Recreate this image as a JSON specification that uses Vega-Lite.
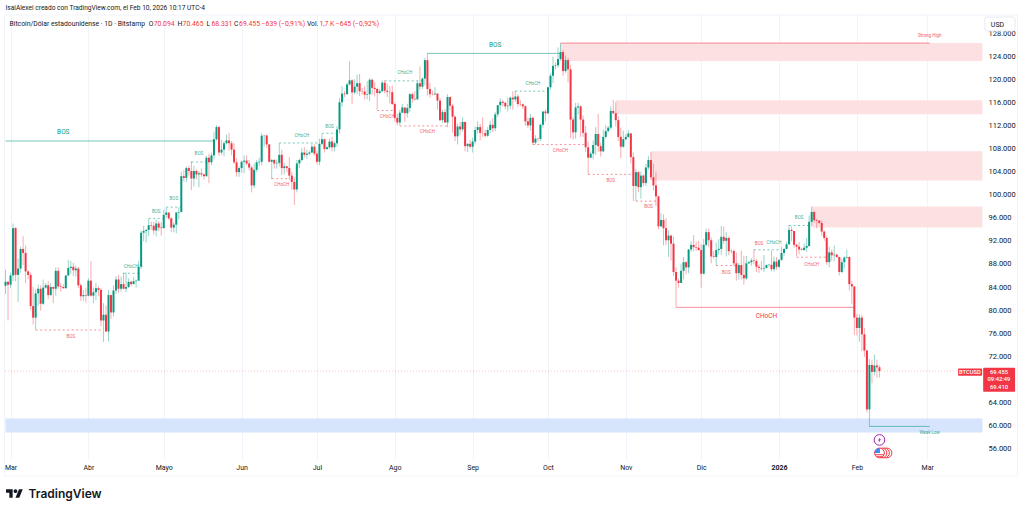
{
  "$schema": "https://vega.github.io/schema/vega-lite/v6.json",
  "width": 979,
  "height": 444,
  "autosize": "none",
  "padding": {"left": 5, "top": 15, "right": 39, "bottom": 50},
  "background": "white",
  "config": {"font": "Roboto", "view": {"stroke": null}},
  "encoding": {
    "x": {
      "type": "temporal",
      "title": null,
      "scale": {"type": "utc", "domain": ["2025-02-26T19:00:00Z", "2026-03-23T15:00:00Z"], "nice": false, "padding": 0},
      "axis": {
        "orient": "bottom",
        "values": ["2025-03-01","2025-04-01","2025-05-01","2025-06-01","2025-07-01","2025-08-01","2025-09-01","2025-10-01","2025-11-01","2025-12-01","2026-01-01","2026-02-01","2026-03-01"],
        "labelExpr": "utcmonth(datum.value) == 0 ? '2026' : ['Ene','Feb','Mar','Abr','Mayo','Jun','Jul','Ago','Sep','Oct','Nov','Dic'][utcmonth(datum.value)]",
        "labelFontWeight": {"expr": "utcmonth(datum.value) == 0 ? 'bold' : 'normal'"},
        "labelFontSize": 7,
        "labelColor": "#131722",
        "labelPadding": 4,
        "labelOverlap": false,
        "labelBound": false,
        "labelFlush": false,
        "ticks": false,
        "domain": false,
        "grid": true,
        "gridColor": "#f0f3fa",
        "gridWidth": 1
      }
    },
    "y": {
      "type": "quantitative",
      "title": null,
      "scale": {"domain": [54208, 131118], "nice": false, "zero": false},
      "axis": {
        "orient": "right",
        "values": [56000,60000,64000,68000,72000,76000,80000,84000,88000,92000,96000,100000,104000,108000,112000,116000,120000,124000,128000],
        "labelExpr": "replace(format(datum.value, ','), ',', '.')",
        "labelFontSize": 7.5,
        "labelColor": "#131722",
        "labelPadding": 4,
        "labelOverlap": false,
        "labelBound": false,
        "ticks": false,
        "domain": false,
        "grid": false
      }
    }
  },
  "datasets": {
    "candles": [
      {"d":"2025-02-27","o":84200,"h":87000,"l":82800,"c":84900},
      {"d":"2025-02-28","o":84900,"h":85100,"l":78200,"c":84400},
      {"d":"2025-03-01","o":84400,"h":86500,"l":83800,"c":86000},
      {"d":"2025-03-02","o":86000,"h":95000,"l":85000,"c":94200},
      {"d":"2025-03-03","o":94200,"h":94400,"l":85000,"c":86100},
      {"d":"2025-03-04","o":86100,"h":88900,"l":81400,"c":87200},
      {"d":"2025-03-05","o":87200,"h":91000,"l":86500,"c":90600},
      {"d":"2025-03-06","o":90600,"h":92800,"l":87800,"c":89900},
      {"d":"2025-03-07","o":89900,"h":91200,"l":84700,"c":86700},
      {"d":"2025-03-08","o":86700,"h":86900,"l":85300,"c":86100},
      {"d":"2025-03-09","o":86100,"h":86500,"l":80000,"c":80700},
      {"d":"2025-03-10","o":80700,"h":84000,"l":77500,"c":78700},
      {"d":"2025-03-11","o":78700,"h":83600,"l":76600,"c":82900},
      {"d":"2025-03-12","o":82900,"h":84400,"l":80800,"c":83700},
      {"d":"2025-03-13","o":83700,"h":84300,"l":79900,"c":81100},
      {"d":"2025-03-14","o":81100,"h":85300,"l":80900,"c":83900},
      {"d":"2025-03-15","o":83900,"h":84700,"l":83700,"c":84300},
      {"d":"2025-03-16","o":84300,"h":85000,"l":81900,"c":82600},
      {"d":"2025-03-17","o":82600,"h":84700,"l":82500,"c":84000},
      {"d":"2025-03-18","o":84000,"h":84100,"l":81200,"c":83700},
      {"d":"2025-03-19","o":83700,"h":87400,"l":82500,"c":86800},
      {"d":"2025-03-20","o":86800,"h":87400,"l":83700,"c":84100},
      {"d":"2025-03-21","o":84100,"h":84700,"l":83200,"c":84000},
      {"d":"2025-03-22","o":84000,"h":84500,"l":83700,"c":83800},
      {"d":"2025-03-23","o":83800,"h":86000,"l":83700,"c":86000},
      {"d":"2025-03-24","o":86000,"h":88700,"l":85900,"c":87300},
      {"d":"2025-03-25","o":87300,"h":88500,"l":86300,"c":87500},
      {"d":"2025-03-26","o":87500,"h":88200,"l":85900,"c":86900},
      {"d":"2025-03-27","o":86900,"h":87700,"l":85800,"c":87200},
      {"d":"2025-03-28","o":87200,"h":87500,"l":83800,"c":84300},
      {"d":"2025-03-29","o":84300,"h":84600,"l":81600,"c":82400},
      {"d":"2025-03-30","o":82400,"h":83500,"l":81600,"c":82600},
      {"d":"2025-03-31","o":82600,"h":83900,"l":81300,"c":82500},
      {"d":"2025-04-01","o":82500,"h":85500,"l":82400,"c":85100},
      {"d":"2025-04-02","o":85100,"h":88500,"l":82300,"c":82500},
      {"d":"2025-04-03","o":82500,"h":83900,"l":81200,"c":83100},
      {"d":"2025-04-04","o":83100,"h":84700,"l":81700,"c":83800},
      {"d":"2025-04-05","o":83800,"h":84200,"l":82400,"c":83500},
      {"d":"2025-04-06","o":83500,"h":83800,"l":77200,"c":78200},
      {"d":"2025-04-07","o":78200,"h":81200,"l":74500,"c":79200},
      {"d":"2025-04-08","o":79200,"h":80800,"l":76200,"c":76300},
      {"d":"2025-04-09","o":76300,"h":83500,"l":74600,"c":82600},
      {"d":"2025-04-10","o":82600,"h":82700,"l":78500,"c":79600},
      {"d":"2025-04-11","o":79600,"h":84300,"l":78900,"c":83400},
      {"d":"2025-04-12","o":83400,"h":85900,"l":82800,"c":85300},
      {"d":"2025-04-13","o":85300,"h":86100,"l":83000,"c":83700},
      {"d":"2025-04-14","o":83700,"h":85800,"l":83200,"c":84500},
      {"d":"2025-04-15","o":84500,"h":86500,"l":83600,"c":83700},
      {"d":"2025-04-16","o":83700,"h":86500,"l":83100,"c":84000},
      {"d":"2025-04-17","o":84000,"h":85500,"l":83800,"c":84900},
      {"d":"2025-04-18","o":84900,"h":85100,"l":84100,"c":84500},
      {"d":"2025-04-19","o":84500,"h":85700,"l":84500,"c":85000},
      {"d":"2025-04-20","o":85000,"h":85300,"l":83900,"c":85100},
      {"d":"2025-04-21","o":85100,"h":88500,"l":85100,"c":87500},
      {"d":"2025-04-22","o":87500,"h":93800,"l":87100,"c":93400},
      {"d":"2025-04-23","o":93400,"h":94600,"l":91900,"c":93700},
      {"d":"2025-04-24","o":93700,"h":94000,"l":91700,"c":93900},
      {"d":"2025-04-25","o":93900,"h":95800,"l":92800,"c":94700},
      {"d":"2025-04-26","o":94700,"h":95300,"l":93900,"c":94600},
      {"d":"2025-04-27","o":94600,"h":95300,"l":93100,"c":93800},
      {"d":"2025-04-28","o":93800,"h":95600,"l":92800,"c":95000},
      {"d":"2025-04-29","o":95000,"h":95400,"l":93700,"c":94300},
      {"d":"2025-04-30","o":94300,"h":95200,"l":92900,"c":94200},
      {"d":"2025-05-01","o":94200,"h":97400,"l":94100,"c":96500},
      {"d":"2025-05-02","o":96500,"h":97800,"l":96000,"c":96900},
      {"d":"2025-05-03","o":96900,"h":96900,"l":95600,"c":95900},
      {"d":"2025-05-04","o":95900,"h":96100,"l":93500,"c":94300},
      {"d":"2025-05-05","o":94300,"h":95200,"l":93500,"c":94800},
      {"d":"2025-05-06","o":94800,"h":97000,"l":93300,"c":96900},
      {"d":"2025-05-07","o":96900,"h":97800,"l":95700,"c":97000},
      {"d":"2025-05-08","o":97000,"h":104000,"l":96900,"c":103200},
      {"d":"2025-05-09","o":103200,"h":104300,"l":102300,"c":102900},
      {"d":"2025-05-10","o":102900,"h":104900,"l":102200,"c":104600},
      {"d":"2025-05-11","o":104600,"h":105000,"l":103300,"c":104100},
      {"d":"2025-05-12","o":104100,"h":105800,"l":100800,"c":102800},
      {"d":"2025-05-13","o":102800,"h":105000,"l":101400,"c":104100},
      {"d":"2025-05-14","o":104100,"h":104400,"l":102600,"c":103500},
      {"d":"2025-05-15","o":103500,"h":104100,"l":101300,"c":103700},
      {"d":"2025-05-16","o":103700,"h":104500,"l":103100,"c":103500},
      {"d":"2025-05-17","o":103500,"h":103700,"l":102600,"c":103200},
      {"d":"2025-05-18","o":103200,"h":106700,"l":103100,"c":106400},
      {"d":"2025-05-19","o":106400,"h":107100,"l":102000,"c":105600},
      {"d":"2025-05-20","o":105600,"h":107300,"l":105100,"c":106800},
      {"d":"2025-05-21","o":106800,"h":110800,"l":106100,"c":109600},
      {"d":"2025-05-22","o":109600,"h":112000,"l":109300,"c":111700},
      {"d":"2025-05-23","o":111700,"h":111900,"l":106700,"c":107300},
      {"d":"2025-05-24","o":107300,"h":109500,"l":106900,"c":107800},
      {"d":"2025-05-25","o":107800,"h":109300,"l":106600,"c":108900},
      {"d":"2025-05-26","o":108900,"h":110400,"l":108700,"c":109400},
      {"d":"2025-05-27","o":109400,"h":110700,"l":107600,"c":108900},
      {"d":"2025-05-28","o":108900,"h":109300,"l":106800,"c":107800},
      {"d":"2025-05-29","o":107800,"h":108900,"l":105300,"c":105600},
      {"d":"2025-05-30","o":105600,"h":106300,"l":103100,"c":103900},
      {"d":"2025-05-31","o":103900,"h":104900,"l":103100,"c":104600},
      {"d":"2025-06-01","o":104600,"h":105900,"l":103800,"c":105700},
      {"d":"2025-06-02","o":105700,"h":106800,"l":103700,"c":105900},
      {"d":"2025-06-03","o":105900,"h":106800,"l":105100,"c":105400},
      {"d":"2025-06-04","o":105400,"h":106000,"l":104200,"c":104700},
      {"d":"2025-06-05","o":104700,"h":105000,"l":100400,"c":101600},
      {"d":"2025-06-06","o":101600,"h":105400,"l":101100,"c":104300},
      {"d":"2025-06-07","o":104300,"h":106000,"l":103900,"c":105600},
      {"d":"2025-06-08","o":105600,"h":106400,"l":104900,"c":105700},
      {"d":"2025-06-09","o":105700,"h":110600,"l":105100,"c":110200},
      {"d":"2025-06-10","o":110200,"h":110300,"l":108300,"c":110250},
      {"d":"2025-06-11","o":110250,"h":110400,"l":108100,"c":108700},
      {"d":"2025-06-12","o":108700,"h":108800,"l":105600,"c":105700},
      {"d":"2025-06-13","o":105700,"h":106200,"l":102700,"c":106000},
      {"d":"2025-06-14","o":106000,"h":106200,"l":104500,"c":105400},
      {"d":"2025-06-15","o":105400,"h":106100,"l":104500,"c":105500},
      {"d":"2025-06-16","o":105500,"h":108900,"l":104900,"c":106900},
      {"d":"2025-06-17","o":106900,"h":107800,"l":103400,"c":104600},
      {"d":"2025-06-18","o":104600,"h":105500,"l":103500,"c":104900},
      {"d":"2025-06-19","o":104900,"h":105000,"l":103900,"c":104600},
      {"d":"2025-06-20","o":104600,"h":106500,"l":102500,"c":103300},
      {"d":"2025-06-21","o":103300,"h":104000,"l":100800,"c":102200},
      {"d":"2025-06-22","o":102200,"h":103000,"l":98200,"c":100900},
      {"d":"2025-06-23","o":100900,"h":106000,"l":100400,"c":105400},
      {"d":"2025-06-24","o":105400,"h":106300,"l":104600,"c":106000},
      {"d":"2025-06-25","o":106000,"h":108100,"l":105700,"c":107300},
      {"d":"2025-06-26","o":107300,"h":108200,"l":106400,"c":106900},
      {"d":"2025-06-27","o":106900,"h":107800,"l":106200,"c":107100},
      {"d":"2025-06-28","o":107100,"h":107600,"l":106800,"c":107300},
      {"d":"2025-06-29","o":107300,"h":108800,"l":107200,"c":108300},
      {"d":"2025-06-30","o":108300,"h":108700,"l":106700,"c":107100},
      {"d":"2025-07-01","o":107100,"h":107500,"l":105300,"c":105700},
      {"d":"2025-07-02","o":105700,"h":109700,"l":105100,"c":108800},
      {"d":"2025-07-03","o":108800,"h":110500,"l":108500,"c":109600},
      {"d":"2025-07-04","o":109600,"h":109700,"l":107300,"c":107900},
      {"d":"2025-07-05","o":107900,"h":108400,"l":107800,"c":108200},
      {"d":"2025-07-06","o":108200,"h":109700,"l":107900,"c":109200},
      {"d":"2025-07-07","o":109200,"h":110000,"l":107500,"c":108200},
      {"d":"2025-07-08","o":108200,"h":109200,"l":107500,"c":108900},
      {"d":"2025-07-09","o":108900,"h":111900,"l":108300,"c":111300},
      {"d":"2025-07-10","o":111300,"h":116700,"l":110600,"c":116000},
      {"d":"2025-07-11","o":116000,"h":118800,"l":115200,"c":117500},
      {"d":"2025-07-12","o":117500,"h":118000,"l":116900,"c":117400},
      {"d":"2025-07-13","o":117400,"h":119400,"l":117300,"c":119100},
      {"d":"2025-07-14","o":119100,"h":123100,"l":118900,"c":119800},
      {"d":"2025-07-15","o":119800,"h":120000,"l":115700,"c":117700},
      {"d":"2025-07-16","o":117700,"h":120000,"l":117400,"c":118700},
      {"d":"2025-07-17","o":118700,"h":120800,"l":117400,"c":119300},
      {"d":"2025-07-18","o":119300,"h":120900,"l":117100,"c":117900},
      {"d":"2025-07-19","o":117900,"h":118500,"l":117300,"c":117850},
      {"d":"2025-07-20","o":117850,"h":118800,"l":116500,"c":117300},
      {"d":"2025-07-21","o":117300,"h":119700,"l":116500,"c":117400},
      {"d":"2025-07-22","o":117400,"h":120200,"l":116200,"c":119900},
      {"d":"2025-07-23","o":119900,"h":120100,"l":117300,"c":118500},
      {"d":"2025-07-24","o":118500,"h":119500,"l":117000,"c":118300},
      {"d":"2025-07-25","o":118300,"h":118500,"l":114700,"c":117600},
      {"d":"2025-07-26","o":117600,"h":118300,"l":117400,"c":117900},
      {"d":"2025-07-27","o":117900,"h":119800,"l":117800,"c":119400},
      {"d":"2025-07-28","o":119400,"h":119800,"l":117500,"c":118000},
      {"d":"2025-07-29","o":118000,"h":119200,"l":116900,"c":117800},
      {"d":"2025-07-30","o":117800,"h":118800,"l":115800,"c":117750},
      {"d":"2025-07-31","o":117750,"h":118900,"l":115500,"c":115700},
      {"d":"2025-08-01","o":115700,"h":116000,"l":112700,"c":113300},
      {"d":"2025-08-02","o":113300,"h":114000,"l":112000,"c":112500},
      {"d":"2025-08-03","o":112500,"h":114700,"l":112000,"c":114200},
      {"d":"2025-08-04","o":114200,"h":115700,"l":114100,"c":115100},
      {"d":"2025-08-05","o":115100,"h":115100,"l":112600,"c":114100},
      {"d":"2025-08-06","o":114100,"h":115700,"l":113400,"c":115000},
      {"d":"2025-08-07","o":115000,"h":117600,"l":114300,"c":117400},
      {"d":"2025-08-08","o":117400,"h":117700,"l":115900,"c":116600},
      {"d":"2025-08-09","o":116600,"h":117900,"l":116300,"c":116500},
      {"d":"2025-08-10","o":116500,"h":119700,"l":116500,"c":119300},
      {"d":"2025-08-11","o":119300,"h":122200,"l":118100,"c":118700},
      {"d":"2025-08-12","o":118700,"h":120300,"l":118300,"c":120100},
      {"d":"2025-08-13","o":120100,"h":123700,"l":118900,"c":123300},
      {"d":"2025-08-14","o":123300,"h":124500,"l":117200,"c":118300},
      {"d":"2025-08-15","o":118300,"h":119300,"l":116800,"c":117400},
      {"d":"2025-08-16","o":117400,"h":118000,"l":117200,"c":117350},
      {"d":"2025-08-17","o":117350,"h":118600,"l":117300,"c":117500},
      {"d":"2025-08-18","o":117500,"h":117600,"l":114700,"c":116300},
      {"d":"2025-08-19","o":116300,"h":116800,"l":112700,"c":112900},
      {"d":"2025-08-20","o":112900,"h":114700,"l":112400,"c":114300},
      {"d":"2025-08-21","o":114300,"h":114800,"l":112400,"c":112500},
      {"d":"2025-08-22","o":112500,"h":117400,"l":111700,"c":116900},
      {"d":"2025-08-23","o":116900,"h":117000,"l":114600,"c":115400},
      {"d":"2025-08-24","o":115400,"h":115700,"l":110700,"c":113500},
      {"d":"2025-08-25","o":113500,"h":113700,"l":109300,"c":110100},
      {"d":"2025-08-26","o":110100,"h":112300,"l":108700,"c":111800},
      {"d":"2025-08-27","o":111800,"h":112600,"l":110300,"c":111300},
      {"d":"2025-08-28","o":111300,"h":113400,"l":110900,"c":112600},
      {"d":"2025-08-29","o":112600,"h":112600,"l":107500,"c":108400},
      {"d":"2025-08-30","o":108400,"h":108900,"l":107400,"c":108800},
      {"d":"2025-08-31","o":108800,"h":109500,"l":108000,"c":108300},
      {"d":"2025-09-01","o":108300,"h":109900,"l":107300,"c":109200},
      {"d":"2025-09-02","o":109200,"h":111800,"l":108700,"c":111200},
      {"d":"2025-09-03","o":111200,"h":112700,"l":110600,"c":111700},
      {"d":"2025-09-04","o":111700,"h":112300,"l":109400,"c":110700},
      {"d":"2025-09-05","o":110700,"h":113400,"l":110000,"c":110650},
      {"d":"2025-09-06","o":110650,"h":111300,"l":109900,"c":110200},
      {"d":"2025-09-07","o":110200,"h":111700,"l":110000,"c":111200},
      {"d":"2025-09-08","o":111200,"h":112800,"l":110700,"c":112100},
      {"d":"2025-09-09","o":112100,"h":113200,"l":110800,"c":111500},
      {"d":"2025-09-10","o":111500,"h":114300,"l":111000,"c":113900},
      {"d":"2025-09-11","o":113900,"h":115500,"l":113400,"c":115500},
      {"d":"2025-09-12","o":115500,"h":116700,"l":114200,"c":116100},
      {"d":"2025-09-13","o":116100,"h":116400,"l":115300,"c":115900},
      {"d":"2025-09-14","o":115900,"h":116100,"l":114800,"c":115300},
      {"d":"2025-09-15","o":115300,"h":116800,"l":114400,"c":115400},
      {"d":"2025-09-16","o":115400,"h":117000,"l":114800,"c":116800},
      {"d":"2025-09-17","o":116800,"h":117900,"l":114700,"c":116500},
      {"d":"2025-09-18","o":116500,"h":118000,"l":116100,"c":117000},
      {"d":"2025-09-19","o":117000,"h":117400,"l":115200,"c":115700},
      {"d":"2025-09-20","o":115700,"h":116300,"l":115300,"c":115650},
      {"d":"2025-09-21","o":115650,"h":115800,"l":114800,"c":115300},
      {"d":"2025-09-22","o":115300,"h":115500,"l":111900,"c":112700},
      {"d":"2025-09-23","o":112700,"h":113300,"l":111500,"c":112000},
      {"d":"2025-09-24","o":112000,"h":114000,"l":111100,"c":113300},
      {"d":"2025-09-25","o":113300,"h":113500,"l":108600,"c":109000},
      {"d":"2025-09-26","o":109000,"h":110300,"l":108700,"c":109700},
      {"d":"2025-09-27","o":109700,"h":109800,"l":109200,"c":109650},
      {"d":"2025-09-28","o":109650,"h":112300,"l":109300,"c":112100},
      {"d":"2025-09-29","o":112100,"h":114400,"l":111600,"c":114400},
      {"d":"2025-09-30","o":114400,"h":114800,"l":112700,"c":114100},
      {"d":"2025-10-01","o":114100,"h":118700,"l":113900,"c":118600},
      {"d":"2025-10-02","o":118600,"h":121000,"l":118200,"c":120600},
      {"d":"2025-10-03","o":120600,"h":123900,"l":119300,"c":122300},
      {"d":"2025-10-04","o":122300,"h":122900,"l":121700,"c":122400},
      {"d":"2025-10-05","o":122400,"h":125500,"l":122000,"c":123500},
      {"d":"2025-10-06","o":123500,"h":126200,"l":123200,"c":124700},
      {"d":"2025-10-07","o":124700,"h":125100,"l":120600,"c":121400},
      {"d":"2025-10-08","o":121400,"h":124100,"l":121100,"c":123300},
      {"d":"2025-10-09","o":123300,"h":123700,"l":119400,"c":121700},
      {"d":"2025-10-10","o":121700,"h":122500,"l":109800,"c":113000},
      {"d":"2025-10-11","o":113000,"h":113400,"l":109500,"c":110800},
      {"d":"2025-10-12","o":110800,"h":115900,"l":109700,"c":115100},
      {"d":"2025-10-13","o":115100,"h":115900,"l":113900,"c":115300},
      {"d":"2025-10-14","o":115300,"h":115500,"l":110000,"c":113000},
      {"d":"2025-10-15","o":113000,"h":113700,"l":110000,"c":110700},
      {"d":"2025-10-16","o":110700,"h":111900,"l":107400,"c":108200},
      {"d":"2025-10-17","o":108200,"h":109200,"l":103500,"c":106400},
      {"d":"2025-10-18","o":106400,"h":107500,"l":106300,"c":107100},
      {"d":"2025-10-19","o":107100,"h":109400,"l":106100,"c":108600},
      {"d":"2025-10-20","o":108600,"h":111700,"l":106900,"c":110500},
      {"d":"2025-10-21","o":110500,"h":114000,"l":107400,"c":108400},
      {"d":"2025-10-22","o":108400,"h":109000,"l":106600,"c":107500},
      {"d":"2025-10-23","o":107500,"h":111300,"l":107400,"c":110000},
      {"d":"2025-10-24","o":110000,"h":112000,"l":109700,"c":111000},
      {"d":"2025-10-25","o":111000,"h":111900,"l":110900,"c":111600},
      {"d":"2025-10-26","o":111600,"h":115300,"l":111300,"c":114500},
      {"d":"2025-10-27","o":114500,"h":116400,"l":113900,"c":114100},
      {"d":"2025-10-28","o":114100,"h":116000,"l":111800,"c":112900},
      {"d":"2025-10-29","o":112900,"h":113600,"l":109300,"c":110000},
      {"d":"2025-10-30","o":110000,"h":111600,"l":106300,"c":108300},
      {"d":"2025-10-31","o":108300,"h":111100,"l":108100,"c":109600},
      {"d":"2025-11-01","o":109600,"h":110500,"l":109400,"c":110000},
      {"d":"2025-11-02","o":110000,"h":111200,"l":109800,"c":110600},
      {"d":"2025-11-03","o":110600,"h":110700,"l":105400,"c":106500},
      {"d":"2025-11-04","o":106500,"h":107300,"l":98900,"c":101500},
      {"d":"2025-11-05","o":101500,"h":104500,"l":98900,"c":103900},
      {"d":"2025-11-06","o":103900,"h":104100,"l":100400,"c":101300},
      {"d":"2025-11-07","o":101300,"h":104000,"l":99300,"c":103300},
      {"d":"2025-11-08","o":103300,"h":103500,"l":101500,"c":102000},
      {"d":"2025-11-09","o":102000,"h":105300,"l":101500,"c":104700},
      {"d":"2025-11-10","o":104700,"h":106700,"l":104300,"c":106000},
      {"d":"2025-11-11","o":106000,"h":107400,"l":102500,"c":103000},
      {"d":"2025-11-12","o":103000,"h":105400,"l":100700,"c":101600},
      {"d":"2025-11-13","o":101600,"h":104000,"l":98000,"c":99700},
      {"d":"2025-11-14","o":99700,"h":99800,"l":94000,"c":94500},
      {"d":"2025-11-15","o":94500,"h":96800,"l":94500,"c":95600},
      {"d":"2025-11-16","o":95600,"h":96600,"l":91200,"c":94200},
      {"d":"2025-11-17","o":94200,"h":95900,"l":91200,"c":92100},
      {"d":"2025-11-18","o":92100,"h":93800,"l":89200,"c":92900},
      {"d":"2025-11-19","o":92900,"h":93100,"l":88600,"c":91500},
      {"d":"2025-11-20","o":91500,"h":92700,"l":85900,"c":86600},
      {"d":"2025-11-21","o":86600,"h":87400,"l":80500,"c":85100},
      {"d":"2025-11-22","o":85100,"h":85500,"l":83900,"c":84700},
      {"d":"2025-11-23","o":84700,"h":88000,"l":84700,"c":86800},
      {"d":"2025-11-24","o":86800,"h":89200,"l":85300,"c":88300},
      {"d":"2025-11-25","o":88300,"h":88500,"l":86200,"c":87400},
      {"d":"2025-11-26","o":87400,"h":90600,"l":86400,"c":90500},
      {"d":"2025-11-27","o":90500,"h":91900,"l":90100,"c":91300},
      {"d":"2025-11-28","o":91300,"h":93000,"l":90200,"c":90900},
      {"d":"2025-11-29","o":90900,"h":91900,"l":90300,"c":90800},
      {"d":"2025-11-30","o":90800,"h":92000,"l":90300,"c":90400},
      {"d":"2025-12-01","o":90400,"h":91400,"l":83900,"c":86300},
      {"d":"2025-12-02","o":86300,"h":92300,"l":86200,"c":91300},
      {"d":"2025-12-03","o":91300,"h":94100,"l":91000,"c":93500},
      {"d":"2025-12-04","o":93500,"h":94100,"l":90900,"c":92100},
      {"d":"2025-12-05","o":92100,"h":92600,"l":88100,"c":89300},
      {"d":"2025-12-06","o":89300,"h":90300,"l":88900,"c":89200},
      {"d":"2025-12-07","o":89200,"h":91700,"l":87700,"c":90400},
      {"d":"2025-12-08","o":90400,"h":92300,"l":89600,"c":90600},
      {"d":"2025-12-09","o":90600,"h":94600,"l":89600,"c":92700},
      {"d":"2025-12-10","o":92700,"h":94500,"l":91500,"c":92000},
      {"d":"2025-12-11","o":92000,"h":93500,"l":89300,"c":92500},
      {"d":"2025-12-12","o":92500,"h":92800,"l":89500,"c":90200},
      {"d":"2025-12-13","o":90200,"h":90600,"l":89800,"c":90250},
      {"d":"2025-12-14","o":90250,"h":90500,"l":87600,"c":88100},
      {"d":"2025-12-15","o":88100,"h":90000,"l":85100,"c":86400},
      {"d":"2025-12-16","o":86400,"h":88200,"l":85300,"c":87800},
      {"d":"2025-12-17","o":87800,"h":90300,"l":85300,"c":86100},
      {"d":"2025-12-18","o":86100,"h":89400,"l":84400,"c":85500},
      {"d":"2025-12-19","o":85500,"h":89400,"l":85200,"c":88100},
      {"d":"2025-12-20","o":88100,"h":88500,"l":88000,"c":88300},
      {"d":"2025-12-21","o":88300,"h":89000,"l":87700,"c":88600},
      {"d":"2025-12-22","o":88600,"h":90500,"l":87900,"c":88500},
      {"d":"2025-12-23","o":88500,"h":88900,"l":86600,"c":87500},
      {"d":"2025-12-24","o":87500,"h":87900,"l":86400,"c":87300},
      {"d":"2025-12-25","o":87300,"h":88500,"l":86900,"c":87200},
      {"d":"2025-12-26","o":87200,"h":89500,"l":86600,"c":87300},
      {"d":"2025-12-27","o":87300,"h":87900,"l":87200,"c":87800},
      {"d":"2025-12-28","o":87800,"h":88000,"l":87500,"c":87850},
      {"d":"2025-12-29","o":87850,"h":90300,"l":86700,"c":87100},
      {"d":"2025-12-30","o":87100,"h":89300,"l":86700,"c":88400},
      {"d":"2025-12-31","o":88400,"h":89200,"l":87000,"c":87500},
      {"d":"2026-01-01","o":87500,"h":88800,"l":87300,"c":88700},
      {"d":"2026-01-02","o":88700,"h":91000,"l":88500,"c":89900},
      {"d":"2026-01-03","o":89900,"h":90700,"l":89300,"c":90600},
      {"d":"2026-01-04","o":90600,"h":91800,"l":90500,"c":91400},
      {"d":"2026-01-05","o":91400,"h":94700,"l":91300,"c":93900},
      {"d":"2026-01-06","o":93900,"h":94500,"l":91900,"c":93700},
      {"d":"2026-01-07","o":93700,"h":93700,"l":90800,"c":91300},
      {"d":"2026-01-08","o":91300,"h":91500,"l":89300,"c":91000},
      {"d":"2026-01-09","o":91000,"h":91800,"l":89700,"c":90500},
      {"d":"2026-01-10","o":90500,"h":90800,"l":90300,"c":90400},
      {"d":"2026-01-11","o":90400,"h":91500,"l":90300,"c":90800},
      {"d":"2026-01-12","o":90800,"h":92500,"l":90100,"c":91100},
      {"d":"2026-01-13","o":91100,"h":96400,"l":91000,"c":95300},
      {"d":"2026-01-14","o":95300,"h":97900,"l":94600,"c":97000},
      {"d":"2026-01-15","o":97000,"h":97200,"l":95200,"c":95600},
      {"d":"2026-01-16","o":95600,"h":95800,"l":94200,"c":95500},
      {"d":"2026-01-17","o":95500,"h":95600,"l":94900,"c":95100},
      {"d":"2026-01-18","o":95100,"h":95500,"l":92900,"c":93600},
      {"d":"2026-01-19","o":93600,"h":93800,"l":92000,"c":92500},
      {"d":"2026-01-20","o":92500,"h":92800,"l":87800,"c":88300},
      {"d":"2026-01-21","o":88300,"h":91000,"l":87400,"c":90000},
      {"d":"2026-01-22","o":90000,"h":90500,"l":88500,"c":89500},
      {"d":"2026-01-23","o":89500,"h":91200,"l":88500,"c":89600},
      {"d":"2026-01-24","o":89600,"h":89800,"l":89000,"c":89200},
      {"d":"2026-01-25","o":89200,"h":89300,"l":86000,"c":86600},
      {"d":"2026-01-26","o":86600,"h":88900,"l":86400,"c":88300},
      {"d":"2026-01-27","o":88300,"h":89300,"l":87200,"c":89100},
      {"d":"2026-01-28","o":89100,"h":90500,"l":88900,"c":89200},
      {"d":"2026-01-29","o":89200,"h":89300,"l":83400,"c":84500},
      {"d":"2026-01-30","o":84500,"h":85000,"l":81100,"c":84100},
      {"d":"2026-01-31","o":84100,"h":84100,"l":75700,"c":78700},
      {"d":"2026-02-01","o":78700,"h":79300,"l":75600,"c":76900},
      {"d":"2026-02-02","o":76900,"h":79300,"l":74500,"c":78700},
      {"d":"2026-02-03","o":78700,"h":79200,"l":72900,"c":75800},
      {"d":"2026-02-04","o":75800,"h":76900,"l":71900,"c":73000},
      {"d":"2026-02-05","o":73000,"h":73100,"l":62300,"c":62800},
      {"d":"2026-02-06","o":62800,"h":71500,"l":59800,"c":70500},
      {"d":"2026-02-07","o":70500,"h":71400,"l":67300,"c":69300},
      {"d":"2026-02-08","o":69300,"h":72300,"l":68700,"c":70400},
      {"d":"2026-02-09","o":70400,"h":71400,"l":68300,"c":70100},
      {"d":"2026-02-10","o":70094,"h":70465,"l":68331,"c":69455}
    ],
    "zones": [
      {"from":"2025-10-06","to":"2026-03-23","top":126260,"bottom":123130,"side":"sell"},
      {"from":"2025-10-28","to":"2026-03-23","top":116360,"bottom":113930,"side":"sell"},
      {"from":"2025-11-11","to":"2026-03-23","top":107500,"bottom":102470,"side":"sell"},
      {"from":"2026-01-14","to":"2026-03-23","top":97960,"bottom":94310,"side":"sell"},
      {"from":"2025-02-27","to":"2026-03-23","top":61220,"bottom":58790,"side":"buy"}
    ],
    "solid": [
      {"from":"2025-02-27","to":"2025-05-21","p":109296,"side":"up"},
      {"from":"2025-08-14","to":"2025-10-06","p":124470,"side":"up"},
      {"from":"2025-10-06","to":"2026-03-02","p":126257,"side":"down"},
      {"from":"2025-11-21","to":"2026-01-31","p":80478,"side":"down"},
      {"from":"2026-02-06","to":"2026-03-02","p":59855,"side":"up"}
    ],
    "dashed": [
      {"from":"2025-04-15","to":"2025-04-21","p":86380,"side":"up"},
      {"from":"2025-04-25","to":"2025-05-01","p":95877,"side":"up"},
      {"from":"2025-05-02","to":"2025-05-08","p":97838,"side":"up"},
      {"from":"2025-05-12","to":"2025-05-18","p":105650,"side":"up"},
      {"from":"2025-06-16","to":"2025-07-02","p":108949,"side":"up"},
      {"from":"2025-07-03","to":"2025-07-09","p":110633,"side":"up"},
      {"from":"2025-07-28","to":"2025-08-12","p":119712,"side":"up"},
      {"from":"2025-09-18","to":"2025-10-01","p":117924,"side":"up"},
      {"from":"2026-01-05","to":"2026-01-13","p":94662,"side":"up"},
      {"from":"2025-12-22","to":"2026-01-02","p":90443,"side":"up"},
      {"from":"2025-03-11","to":"2025-04-06","p":76555,"side":"down"},
      {"from":"2025-06-13","to":"2025-06-20","p":102769,"side":"down"},
      {"from":"2025-07-25","to":"2025-08-01","p":114573,"side":"down"},
      {"from":"2025-08-03","to":"2025-08-22","p":111900,"side":"down"},
      {"from":"2025-09-25","to":"2025-10-16","p":108671,"side":"down"},
      {"from":"2025-10-17","to":"2025-11-04","p":103515,"side":"down"},
      {"from":"2025-11-05","to":"2025-11-14","p":98880,"side":"down"},
      {"from":"2025-12-07","to":"2025-12-15","p":87718,"side":"down"},
      {"from":"2026-01-08","to":"2026-01-20","p":89158,"side":"down"}
    ],
    "smallLabels": [
      {"d":"2025-04-18","p":87544,"text":"CHoCH","side":"up"},
      {"d":"2025-04-28","p":96918,"text":"BOS","side":"up"},
      {"d":"2025-05-05","p":99175,"text":"BOS","side":"up"},
      {"d":"2025-05-15","p":106987,"text":"BOS","side":"up"},
      {"d":"2025-06-25","p":110112,"text":"CHoCH","side":"up"},
      {"d":"2025-07-06","p":111674,"text":"BOS","side":"up"},
      {"d":"2025-08-05","p":121049,"text":"CHoCH","side":"up"},
      {"d":"2025-09-25","p":119139,"text":"CHoCH","side":"up"},
      {"d":"2026-01-09","p":95877,"text":"BOS","side":"up"},
      {"d":"2025-12-30","p":91710,"text":"CHoCH","side":"up"},
      {"d":"2026-03-02","p":58726,"text":"Weak Low","side":"up"},
      {"d":"2025-03-25","p":75392,"text":"BOS","side":"down"},
      {"d":"2025-06-17","p":101606,"text":"CHoCH","side":"down"},
      {"d":"2025-07-29","p":113410,"text":"CHoCH","side":"down"},
      {"d":"2025-08-14","p":110806,"text":"CHoCH","side":"down"},
      {"d":"2025-10-06","p":107508,"text":"CHoCH","side":"down"},
      {"d":"2025-10-26","p":102300,"text":"BOS","side":"down"},
      {"d":"2025-11-10","p":97786,"text":"BOS","side":"down"},
      {"d":"2025-12-11","p":86502,"text":"BOS","side":"down"},
      {"d":"2026-01-14","p":87891,"text":"CHoCH","side":"down"},
      {"d":"2025-12-24","p":91537,"text":"BOS","side":"down"},
      {"d":"2026-03-02","p":127472,"text":"Strong High","side":"down"}
    ],
    "bigLabels": [
      {"d":"2025-03-22","p":110806,"text":"BOS","side":"up"},
      {"d":"2025-09-10","p":125910,"text":"BOS","side":"up"},
      {"d":"2025-12-27","p":79038,"text":"CHoCH","side":"down"}
    ],
    "headerTop": [
      {"d":"2025-02-27","p":132247,"text":"IsaiAlexei creado con TradingView.com, el Feb 10, 2026 10:17 UTC-4"}
    ],
    "header": [
      {"d":"2025-02-28T14:00:00Z","p":129642,"text":"Bitcoin/Dólar estadounidense · 1D · Bitstamp","side":"ink"},
      {"d":"2025-04-25","p":129642,"text":"O","side":"ink"},
      {"d":"2025-04-27","p":129642,"text":"70.094","side":"down"},
      {"d":"2025-05-06T12:00:00Z","p":129642,"text":"H","side":"ink"},
      {"d":"2025-05-08T12:00:00Z","p":129642,"text":"70.465","side":"down"},
      {"d":"2025-05-18","p":129642,"text":"L","side":"ink"},
      {"d":"2025-05-20","p":129642,"text":"68.331","side":"down"},
      {"d":"2025-05-29","p":129642,"text":"C","side":"ink"},
      {"d":"2025-05-31","p":129642,"text":"69.455","side":"down"},
      {"d":"2025-06-09","p":129642,"text":"−639 (−0,91%)","side":"down"},
      {"d":"2025-06-27","p":129642,"text":"Vol.","side":"ink"},
      {"d":"2025-07-02","p":129642,"text":"1,7 K","side":"down"},
      {"d":"2025-07-08T12:00:00Z","p":129642,"text":"−645 (−0,92%)","side":"down"}
    ],
    "tags": [
      {"from":"2026-03-13T07:00:00Z","to":"2026-03-22T21:00:00Z","top":69889,"bottom":68622},
      {"from":"2026-03-23T07:00:00Z","to":"2026-04-05","top":70010,"bottom":65844}
    ],
    "tagText": [
      {"d":"2026-03-18","p":69264,"text":"BTCUSD"},
      {"d":"2026-03-29T14:00:00Z","p":69264,"text":"69.455"},
      {"d":"2026-03-29T14:00:00Z","p":67980,"text":"09:42:49"},
      {"d":"2026-03-29T14:00:00Z","p":66625,"text":"69.410"}
    ],
    "flagCircles": [
      {"d":"2026-02-13","p":55254},
      {"d":"2026-02-12","p":55254},
      {"d":"2026-02-11","p":55254},
      {"d":"2026-02-10","p":55254}
    ]
  },
  "layer": [
    {
      "data": {"name": "zones", "format": {"parse": {"from": "date", "to": "date"}}},
      "mark": {"type": "rect"},
      "encoding": {
        "x": {"field": "from"},
        "x2": {"field": "to"},
        "y": {"field": "top"},
        "y2": {"field": "bottom"},
        "color": {"condition": {"test": "datum.side == 'sell'", "value": "#fde0e2"}, "value": "#d6e4fc"}
      }
    },
    {
      "data": {"values": [{"from": "2025-02-26T14:00:00Z", "to": "2026-04-06", "top": 131118, "bottom": 51262}], "format": {"parse": {"from": "date", "to": "date"}}},
      "mark": {"type": "rect", "fillOpacity": 0, "stroke": "#f0f3fa", "strokeWidth": 1},
      "encoding": {
        "x": {"field": "from"},
        "x2": {"field": "to"},
        "y": {"field": "top"},
        "y2": {"field": "bottom"}
      }
    },
    {
      "data": {"values": [{"p": 69455, "from": "2025-02-26T19:00:00Z", "to": "2026-03-23T15:00:00Z"}], "format": {"parse": {"from": "date", "to": "date"}}},
      "mark": {"type": "rule", "color": "#f23645", "opacity": 0.3, "strokeWidth": 1, "strokeDash": [1, 2]},
      "encoding": {
        "x": {"field": "from"},
        "x2": {"field": "to"},
        "y": {"field": "p"}
      }
    },
    {
      "data": {"name": "candles", "format": {"parse": {"d": "date"}}},
      "mark": {"type": "rule", "opacity": 0.42, "strokeWidth": 1},
      "encoding": {
        "x": {"field": "d"},
        "y": {"field": "l"},
        "y2": {"field": "h"},
        "color": {"condition": {"test": "datum.c >= datum.o", "value": "#089981"}, "value": "#f23645"}
      }
    },
    {
      "data": {"name": "candles", "format": {"parse": {"d": "date"}}},
      "mark": {"type": "bar", "size": 2},
      "encoding": {
        "x": {"field": "d"},
        "y": {"field": "o"},
        "y2": {"field": "c"},
        "color": {"condition": {"test": "datum.c >= datum.o", "value": "#089981"}, "value": "#f23645"}
      }
    },
    {
      "data": {"name": "solid", "format": {"parse": {"from": "date", "to": "date"}}},
      "mark": {"type": "rule", "opacity": 0.55, "strokeWidth": 1},
      "encoding": {
        "x": {"field": "from"},
        "x2": {"field": "to"},
        "y": {"field": "p"},
        "color": {"condition": {"test": "datum.side == 'up'", "value": "#089981"}, "value": "#f23645"}
      }
    },
    {
      "data": {"name": "dashed", "format": {"parse": {"from": "date", "to": "date"}}},
      "mark": {"type": "rule", "opacity": 0.55, "strokeWidth": 1, "strokeDash": [2, 2.5]},
      "encoding": {
        "x": {"field": "from"},
        "x2": {"field": "to"},
        "y": {"field": "p"},
        "color": {"condition": {"test": "datum.side == 'up'", "value": "#089981"}, "value": "#f23645"}
      }
    },
    {
      "data": {"name": "smallLabels", "format": {"parse": {"d": "date"}}},
      "mark": {"type": "text", "fontSize": 4.5, "opacity": 0.8},
      "encoding": {
        "x": {"field": "d"},
        "y": {"field": "p"},
        "text": {"field": "text"},
        "color": {"condition": {"test": "datum.side == 'up'", "value": "#089981"}, "value": "#f23645"}
      }
    },
    {
      "data": {"name": "bigLabels", "format": {"parse": {"d": "date"}}},
      "mark": {"type": "text", "fontSize": 6.5},
      "encoding": {
        "x": {"field": "d"},
        "y": {"field": "p"},
        "text": {"field": "text"},
        "color": {"condition": {"test": "datum.side == 'up'", "value": "#089981"}, "value": "#f23645"}
      }
    },
    {
      "data": {"name": "headerTop", "format": {"parse": {"d": "date"}}},
      "mark": {"type": "text", "align": "left", "fontSize": 6.6, "color": "#131722"},
      "encoding": {
        "x": {"field": "d"},
        "y": {"field": "p"},
        "text": {"field": "text"}
      }
    },
    {
      "data": {"name": "header", "format": {"parse": {"d": "date"}}},
      "mark": {"type": "text", "align": "left", "fontSize": 6.8},
      "encoding": {
        "x": {"field": "d"},
        "y": {"field": "p"},
        "text": {"field": "text"},
        "color": {"condition": {"test": "datum.side == 'ink'", "value": "#131722"}, "value": "#f23645"}
      }
    },
    {
      "data": {"values": [{"from": "2026-03-24", "to": "2026-04-05", "top": 130770, "bottom": 128340}], "format": {"parse": {"from": "date", "to": "date"}}},
      "mark": {"type": "rect", "fill": "white", "stroke": "#e8eaf0", "strokeWidth": 1, "cornerRadius": 2},
      "encoding": {
        "x": {"field": "from"},
        "x2": {"field": "to"},
        "y": {"field": "top"},
        "y2": {"field": "bottom"}
      }
    },
    {
      "data": {"values": [{"d": "2026-03-29", "p": 129430, "text": "USD"}], "format": {"parse": {"d": "date"}}},
      "mark": {"type": "text", "fontSize": 7, "color": "#131722"},
      "encoding": {
        "x": {"field": "d"},
        "y": {"field": "p"},
        "text": {"field": "text"}
      }
    },
    {
      "data": {"name": "tags", "format": {"parse": {"from": "date", "to": "date"}}},
      "mark": {"type": "rect", "color": "#f23645", "cornerRadius": 1},
      "encoding": {
        "x": {"field": "from"},
        "x2": {"field": "to"},
        "y": {"field": "top"},
        "y2": {"field": "bottom"}
      }
    },
    {
      "data": {"name": "tagText", "format": {"parse": {"d": "date"}}},
      "mark": {"type": "text", "fontSize": 5.8, "fontWeight": 500, "color": "white"},
      "encoding": {
        "x": {"field": "d"},
        "y": {"field": "p"},
        "text": {"field": "text"}
      }
    },
    {
      "data": {"values": [{"d": "2026-02-10", "p": 57511}], "format": {"parse": {"d": "date"}}},
      "mark": {"type": "point", "shape": "circle", "size": 113, "filled": true, "fill": "white", "stroke": "#9c27b0", "strokeWidth": 1, "opacity": 1},
      "encoding": {
        "x": {"field": "d"},
        "y": {"field": "p"}
      }
    },
    {
      "data": {"values": [{"d": "2026-02-10", "p": 57511}], "format": {"parse": {"d": "date"}}},
      "mark": {"type": "point", "shape": "M 0.3 -1 L -0.5 0.15 L -0.05 0.15 L -0.3 1 L 0.5 -0.2 L 0.05 -0.2 Z", "size": 36, "filled": true, "color": "#9c27b0", "opacity": 1},
      "encoding": {
        "x": {"field": "d"},
        "y": {"field": "p"}
      }
    },
    {
      "data": {"name": "flagCircles", "format": {"parse": {"d": "date"}}},
      "mark": {"type": "point", "shape": "circle", "size": 95, "filled": true, "fill": "white", "stroke": "#f23645", "strokeWidth": 1, "opacity": 1},
      "encoding": {
        "x": {"field": "d"},
        "y": {"field": "p"}
      }
    },
    {
      "data": {"values": [{"d": "2026-02-10", "p": 55254}], "format": {"parse": {"d": "date"}}},
      "mark": {"type": "point", "shape": "M -1 0 A 1 1 0 0 1 0.1 -1 L 0.1 0 Z", "size": 95, "filled": true, "color": "#3d8ef0", "opacity": 1},
      "encoding": {
        "x": {"field": "d"},
        "y": {"field": "p"}
      }
    },
    {
      "data": {"values": [{"d": "2026-02-10", "p": 55254}], "format": {"parse": {"d": "date"}}},
      "mark": {"type": "point", "shape": "M -0.9 0.25 H 0.9 V 0.45 H -0.9 Z M -0.7 0.65 H 0.7 V 0.85 H -0.7 Z", "size": 95, "filled": true, "color": "#f23645", "opacity": 1},
      "encoding": {
        "x": {"field": "d"},
        "y": {"field": "p"}
      }
    },
    {
      "data": {"values": [{"d": "2025-03-02T14:00:00Z", "p": 48220}], "format": {"parse": {"d": "date"}}},
      "mark": {"type": "point", "shape": "M -0.222 0.5 L -0.611 0.5 L -0.611 -0.111 L -1 -0.111 L -1 -0.5 L -0.222 -0.5 Z M 0.556 0.5 L 0.111 0.5 L 0.528 -0.5 L 0.972 -0.5 Z M -0.111 -0.278 A 0.222 0.222 0 1 0 0.333 -0.278 A 0.222 0.222 0 1 0 -0.111 -0.278 Z", "size": 289, "filled": true, "color": "#131722", "opacity": 1},
      "encoding": {
        "x": {"field": "d"},
        "y": {"field": "p"}
      }
    },
    {
      "data": {"values": [{"d": "2025-03-08T04:00:00Z", "p": 48220, "text": "TradingView"}], "format": {"parse": {"d": "date"}}},
      "mark": {"type": "text", "align": "left", "font": "Inter", "fontSize": 12, "fontWeight": 600, "color": "#131722"},
      "encoding": {
        "x": {"field": "d"},
        "y": {"field": "p"},
        "text": {"field": "text"}
      }
    }
  ]
}
